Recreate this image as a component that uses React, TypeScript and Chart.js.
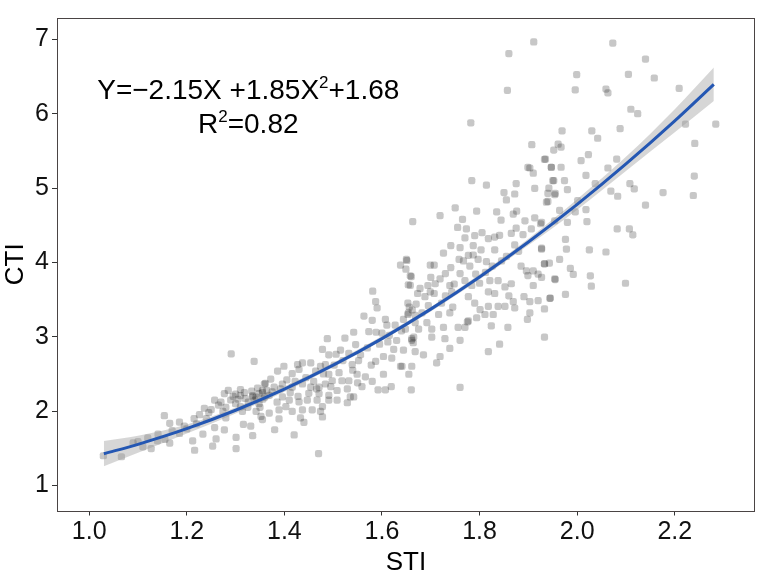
import { useEffect, useRef } from "react";
import { Chart, registerables } from "chart.js";

Chart.register(...registerables);

// Observed (STI, CTI) pairs
const scatterPoints: [number, number][] = [
  // low STI range
  [1.029, 1.40], [1.066, 1.387], [1.09, 1.574], [1.11, 1.52], [1.127, 1.496], [1.141, 1.691], [1.14, 1.60],
  [1.154, 1.939], [1.165, 1.835], [1.165, 1.57], [1.185, 1.852], [1.185, 1.70], [1.20, 1.76], [1.212, 1.60],
  [1.216, 1.474], [1.22, 1.83], [1.226, 1.952], [1.233, 1.691], [1.236, 2.039], [1.245, 1.98], [1.253, 1.53],
  [1.257, 2.148], [1.257, 1.778], [1.26, 1.626], [1.265, 2.08], [1.274, 1.996], [1.277, 2.235], [1.277, 1.748],
  [1.28, 1.909], [1.28, 2.05], [1.29, 2.15], [1.291, 2.77], [1.30, 2.23], [1.30, 2.10], [1.301, 1.648],
  [1.301, 1.496], [1.31, 2.21], [1.31, 2.29], [1.314, 1.996], [1.316, 1.822], [1.32, 2.17], [1.325, 2.05],
  [1.331, 1.80], [1.335, 1.67], [1.335, 2.21], [1.338, 2.67], [1.34, 2.15], [1.345, 2.31], [1.35, 2.05],
  [1.355, 1.887], [1.355, 2.25], [1.36, 2.19], [1.361, 2.374],
  [1.305, 2.16], [1.318, 2.25], [1.326, 2.12], [1.333, 2.27], [1.342, 2.19], [1.348, 2.10], [1.356, 2.16],
  [1.364, 2.28], [1.31, 2.06], [1.295, 2.20], [1.285, 2.28], [1.27, 2.12], [1.25, 2.02], [1.24, 1.90],
  [1.215, 1.90], [1.195, 1.80], [1.17, 1.74], [1.155, 1.62], [1.12, 1.64], [1.10, 1.59],
  // 1.33 - 1.67
  [1.335, 2.191], [1.342, 1.996], [1.348, 2.235], [1.352, 1.93], [1.355, 2.278], [1.359, 2.365], [1.369, 2.213],
  [1.369, 1.974], [1.372, 2.43], [1.379, 2.322], [1.386, 2.539], [1.389, 2.017], [1.389, 1.896], [1.396, 2.365],
  [1.396, 2.191], [1.399, 2.604], [1.403, 2.061], [1.41, 2.148], [1.416, 2.504], [1.416, 2.322], [1.416, 1.996],
  [1.427, 2.626], [1.43, 2.561], [1.43, 2.126], [1.433, 1.909], [1.437, 2.648], [1.437, 2.365], [1.437, 2.017],
  [1.447, 2.148], [1.454, 2.648], [1.454, 2.322], [1.457, 2.017], [1.464, 2.539], [1.467, 2.148], [1.471, 2.322],
  [1.471, 2.235], [1.474, 2.604], [1.474, 1.996], [1.478, 2.83], [1.478, 2.061], [1.478, 1.922], [1.484, 2.626],
  [1.484, 2.365], [1.488, 2.974], [1.491, 2.757], [1.491, 2.496], [1.491, 2.148], [1.491, 2.213], [1.498, 2.409],
  [1.506, 2.765], [1.508, 2.148], [1.508, 2.278], [1.512, 2.517], [1.515, 2.822], [1.518, 2.409], [1.524, 2.983],
  [1.529, 2.113], [1.529, 2.30], [1.532, 2.778], [1.532, 2.409], [1.535, 2.191], [1.539, 2.626], [1.542, 3.061],
  [1.542, 2.191], [1.546, 2.896], [1.549, 2.496], [1.556, 2.757], [1.559, 2.33], [1.563, 3.278], [1.566, 2.461],
  [1.573, 3.07], [1.58, 3.222], [1.581, 3.613], [1.587, 3.474], [1.587, 2.67], [1.588, 3.061], [1.59, 3.387],
  [1.592, 2.287], [1.603, 2.735], [1.603, 2.496], [1.607, 3.235], [1.607, 2.287], [1.61, 3.157], [1.612, 2.93],
  [1.619, 2.33], [1.62, 2.713], [1.624, 2.83], [1.627, 3.157], [1.638, 3.965], [1.638, 2.604], [1.644, 3.235],
  [1.644, 2.822], [1.649, 3.909], [1.651, 4.026], [1.653, 3.30], [1.655, 2.496], [1.658, 3.691], [1.66, 3.809],
  [1.66, 2.287], [1.661, 2.974], [1.668, 3.191], [1.668, 2.80], [1.47, 1.43], [1.38, 1.75], [1.42, 1.68],
  [1.44, 1.85],
  [1.375, 2.26], [1.385, 2.12], [1.392, 2.30], [1.405, 2.42], [1.412, 2.25], [1.422, 2.40], [1.428, 2.20],
  [1.444, 2.45], [1.45, 2.24], [1.46, 2.40], [1.466, 2.30], [1.48, 2.50], [1.495, 2.33], [1.502, 2.62],
  [1.52, 2.68], [1.54, 2.55], [1.552, 2.68], [1.57, 2.85], [1.578, 2.62], [1.595, 2.90], [1.60, 3.05],
  [1.615, 3.02], [1.63, 2.95], [1.64, 3.08], [1.58, 2.40], [1.55, 2.38],
  // 1.64 - 1.96
  [1.641, 2.604], [1.648, 3.104], [1.65, 4.04], [1.653, 3.452], [1.654, 3.70], [1.654, 3.322], [1.658, 3.82],
  [1.661, 2.952], [1.661, 2.604], [1.663, 4.55], [1.665, 2.995], [1.668, 3.287], [1.673, 3.582], [1.675, 3.104],
  [1.678, 3.65], [1.682, 3.322], [1.685, 2.757], [1.688, 3.539], [1.692, 3.191], [1.694, 3.69], [1.699, 3.965],
  [1.699, 3.604], [1.702, 3.104], [1.702, 2.995], [1.707, 3.965], [1.707, 3.582], [1.709, 3.713], [1.712, 2.648],
  [1.716, 3.30], [1.719, 4.63], [1.719, 3.78], [1.719, 2.735], [1.722, 3.452], [1.726, 4.126], [1.726, 3.126],
  [1.729, 2.974], [1.739, 3.69], [1.739, 3.322], [1.739, 2.843], [1.741, 4.226], [1.741, 3.93], [1.743, 3.604],
  [1.748, 3.71], [1.75, 4.735], [1.755, 4.47], [1.756, 3.126], [1.758, 4.04], [1.76, 2.952], [1.76, 2.32],
  [1.765, 4.58], [1.767, 4.02], [1.77, 4.33], [1.77, 3.756], [1.77, 3.126], [1.773, 4.45], [1.775, 3.20],
  [1.777, 4.095], [1.777, 3.539], [1.777, 3.213], [1.782, 5.878], [1.784, 5.10], [1.784, 3.69], [1.787, 4.226],
  [1.787, 4.10], [1.79, 4.36], [1.79, 3.452], [1.792, 3.843], [1.794, 4.69], [1.794, 3.256], [1.797, 4.04],
  [1.801, 3.365], [1.803, 4.17], [1.805, 4.40], [1.811, 3.30], [1.812, 3.865], [1.814, 5.04], [1.814, 4.01],
  [1.818, 4.32], [1.818, 3.604], [1.818, 3.409], [1.818, 2.80], [1.821, 3.756], [1.824, 3.148], [1.828, 3.30],
  [1.831, 4.34], [1.831, 4.17], [1.831, 3.582], [1.835, 4.68], [1.838, 3.756], [1.838, 3.409], [1.841, 4.365],
  [1.841, 2.90], [1.844, 4.57], [1.85, 4.94], [1.852, 3.67], [1.852, 3.409], [1.855, 4.84], [1.855, 4.08],
  [1.857, 6.313], [1.858, 3.126], [1.86, 6.809], [1.865, 4.39], [1.865, 3.713], [1.869, 4.65], [1.869, 3.474],
  [1.872, 4.92], [1.872, 4.235], [1.872, 3.387], [1.875, 5.06], [1.875, 4.46], [1.876, 4.69], [1.889, 4.374],
  [1.891, 3.539], [1.893, 4.56], [1.896, 3.887], [1.898, 3.235], [1.899, 5.278], [1.899, 3.822], [1.903, 5.27],
  [1.903, 3.474], [1.903, 3.322], [1.906, 4.45], [1.907, 5.583], [1.91, 5.20], [1.91, 3.887], [1.91, 3.69],
  [1.911, 6.965], [1.913, 4.995], [1.913, 4.60], [1.92, 3.843], [1.92, 3.487], [1.925, 4.52], [1.927, 4.191],
  [1.933, 5.387], [1.933, 3.982], [1.933, 3.374], [1.933, 2.995], [1.937, 4.81], [1.94, 4.93], [1.944, 3.517],
  [1.947, 5.28], [1.95, 5.10], [1.954, 4.91], [1.954, 4.56], [1.954, 3.778],
  [1.656, 3.40], [1.662, 3.36], [1.664, 2.92], [1.67, 3.44], [1.695, 3.42], [1.73, 3.55], [1.745, 3.40],
  [1.76, 3.85], [1.78, 3.95], [1.80, 3.72], [1.826, 3.95], [1.845, 4.02], [1.86, 3.55], [1.88, 4.15],
  [1.885, 3.95], [1.76, 4.20], [1.73, 3.85], [1.70, 3.80],
  // high STI range
  [1.927, 4.54], [1.927, 4.18], [1.927, 3.80], [1.933, 3.98], [1.935, 5.39], [1.94, 4.82], [1.942, 5.00],
  [1.943, 3.99], [1.945, 3.52], [1.947, 5.28], [1.952, 5.51], [1.952, 5.10], [1.955, 4.93], [1.955, 3.77],
  [1.961, 5.59], [1.964, 4.70], [1.964, 4.04], [1.967, 5.55], [1.967, 5.28], [1.969, 5.77], [1.974, 5.10],
  [1.976, 4.31], [1.976, 3.57], [1.978, 4.18], [1.98, 4.98], [1.98, 4.54], [1.986, 3.92], [1.992, 3.84],
  [1.996, 6.32], [1.996, 4.68], [1.999, 6.526], [2.001, 4.83], [2.008, 5.37], [2.018, 5.17], [2.018, 4.71],
  [2.02, 4.55], [2.023, 5.45], [2.025, 4.17], [2.027, 3.82], [2.029, 3.68], [2.03, 5.77], [2.037, 5.06],
  [2.042, 5.67], [2.059, 6.33], [2.059, 4.14], [2.063, 6.28], [2.063, 5.27], [2.069, 4.96], [2.073, 6.95],
  [2.081, 5.39], [2.082, 4.45], [2.083, 4.89], [2.088, 5.80], [2.099, 3.72], [2.105, 6.53], [2.107, 4.45],
  [2.108, 5.06], [2.11, 6.06], [2.114, 4.37], [2.117, 4.99], [2.124, 6.00], [2.14, 6.735], [2.14, 4.77],
  [2.158, 6.48], [2.176, 4.94], [2.209, 6.34], [2.222, 5.86], [2.238, 4.90], [2.24, 5.16], [2.241, 5.60],
  [2.284, 5.86],
];

// Fitted quadratic curve
const fitSti = [1.03, 1.1, 1.2, 1.3, 1.4, 1.5, 1.6, 1.7, 1.8, 1.9, 2.0, 2.1, 2.2, 2.28];
const fitCti = [1.428, 1.554, 1.764, 2.012, 2.296, 2.618, 2.976, 3.372, 3.804, 4.274, 4.78, 5.324, 5.904, 6.395];
const bandUpper = [1.60, 1.67, 1.82, 2.05, 2.33, 2.65, 3.01, 3.40, 3.84, 4.32, 4.85, 5.42, 6.06, 6.62];
const bandLower = [1.26, 1.44, 1.70, 1.97, 2.26, 2.59, 2.95, 3.34, 3.77, 4.23, 4.71, 5.23, 5.75, 6.17];

const xTickValues = [1.0, 1.2, 1.4, 1.6, 1.8, 2.0, 2.2];
const yTickValues = [1, 2, 3, 4, 5, 6, 7];

const equationText = "Y=\u22122.15X +1.85X";
const equationTail = "+1.68";
const r2Text = "=0.82";

const FONT = '"Liberation Sans", Arial, Helvetica, sans-serif';

const borderPlugin = {
  id: "panelBorder",
  afterDraw(chart: any) {
    const { ctx, chartArea } = chart;
    ctx.save();
    ctx.strokeStyle = "#4a4444";
    ctx.lineWidth = 1;
    ctx.strokeRect(
      Math.round(chartArea.left) + 0.5,
      Math.round(chartArea.top) + 0.5,
      Math.round(chartArea.right - chartArea.left) - 1,
      Math.round(chartArea.bottom - chartArea.top)
    );
    ctx.restore();
  },
};

function drawSegments(ctx: CanvasRenderingContext2D, segs: [string, boolean][], cx: number, y: number) {
  const main = `28px ${FONT}`;
  const sup = `17px ${FONT}`;
  let total = 0;
  const widths = segs.map(([t, s]) => {
    ctx.font = s ? sup : main;
    const w = ctx.measureText(t).width;
    total += w;
    return w;
  });
  let x = cx - total / 2;
  segs.forEach(([t, s], i) => {
    ctx.font = s ? sup : main;
    ctx.fillText(t, x, s ? y - 11 : y);
    x += widths[i];
  });
}

const annotationPlugin = {
  id: "equationText",
  afterDatasetsDraw(chart: any) {
    const { ctx, scales } = chart;
    const cx = scales.x.getPixelForValue(1.326);
    const y1 = scales.y.getPixelForValue(6.194);
    const y2 = scales.y.getPixelForValue(5.737);
    ctx.save();
    ctx.fillStyle = "#000";
    ctx.textAlign = "left";
    ctx.textBaseline = "alphabetic";
    drawSegments(ctx, [[equationText, false], ["2", true], [equationTail, false]], cx, y1);
    drawSegments(ctx, [["R", false], ["2", true], [r2Text, false]], cx, y2);
    ctx.restore();
  },
};

export default function App() {
  const ref = useRef<HTMLCanvasElement | null>(null);

  useEffect(() => {
    if (!ref.current) return;
    const tickFont = { family: FONT, size: 25 };
    const chart = new Chart(ref.current, {
      type: "scatter",
      data: {
        datasets: [
          {
            type: "line",
            label: "fit",
            data: fitSti.map((x, i) => ({ x, y: fitCti[i] })),
            borderColor: "#2457b3",
            borderWidth: 3,
            pointRadius: 0,
            fill: false,
            cubicInterpolationMode: "monotone",
            order: 0,
          } as any,
          {
            type: "line",
            label: "upper",
            data: fitSti.map((x, i) => ({ x, y: bandUpper[i] })),
            borderColor: "rgba(0,0,0,0)",
            borderWidth: 0,
            pointRadius: 0,
            backgroundColor: "rgba(153,153,153,0.4)",
            fill: "+1",
            cubicInterpolationMode: "monotone",
            order: 1,
          } as any,
          {
            type: "line",
            label: "lower",
            data: fitSti.map((x, i) => ({ x, y: bandLower[i] })),
            borderColor: "rgba(0,0,0,0)",
            borderWidth: 0,
            pointRadius: 0,
            fill: false,
            cubicInterpolationMode: "monotone",
            order: 1,
          } as any,
          {
            type: "scatter",
            label: "points",
            data: scatterPoints.map(([x, y]) => ({ x, y })),
            backgroundColor: "rgba(0,0,0,0.22)",
            borderWidth: 0,
            pointStyle: "rectRounded",
            pointRadius: 4.2,
            order: 2,
          } as any,
        ],
      },
      options: {
        responsive: false,
        animation: false,
        devicePixelRatio: 1,
        layout: { padding: { top: 3, right: 1.3, left: 0, bottom: 0 } },
        plugins: {
          legend: { display: false },
          tooltip: { enabled: false },
        },
        scales: {
          x: {
            type: "linear",
            min: 0.934,
            max: 2.364,
            afterBuildTicks: (s: any) => {
              s.ticks = xTickValues.map((v) => ({ value: v }));
            },
            afterFit: (s: any) => {
              s.height = 65.5;
            },
            ticks: {
              font: tickFont,
              color: "#111",
              padding: 2,
              maxRotation: 0,
              autoSkip: false,
              callback: (v: any) => Number(v).toFixed(1),
            },
            grid: { drawOnChartArea: false, tickLength: 5, color: "#333" },
            border: { display: false },
            title: {
              display: true,
              text: "STI",
              color: "#000",
              font: { family: FONT, size: 26, lineHeight: 1 },
              padding: 0,
            },
          },
          y: {
            type: "linear",
            min: 0.664,
            max: 7.287,
            afterBuildTicks: (s: any) => {
              s.ticks = yTickValues.map((v) => ({ value: v }));
            },
            afterFit: (s: any) => {
              s.width = 57;
            },
            ticks: {
              font: tickFont,
              color: "#111",
              padding: 3,
              autoSkip: false,
              callback: (v: any) => String(v),
            },
            grid: { drawOnChartArea: false, tickLength: 5, color: "#333" },
            border: { display: false },
            title: {
              display: true,
              text: "CTI",
              color: "#000",
              font: { family: FONT, size: 26, lineHeight: 1 },
              padding: { top: 3, bottom: 0 },
            },
          },
        },
      },
      plugins: [borderPlugin, annotationPlugin],
    } as any);
    return () => chart.destroy();
  }, []);

  return (
    <div style={{ position: "fixed", left: 0, top: 0, width: 759, height: 576, background: "#fff" }}>
      <canvas ref={ref} width={759} height={576} style={{ width: 759, height: 576, display: "block" }} />
    </div>
  );
}
